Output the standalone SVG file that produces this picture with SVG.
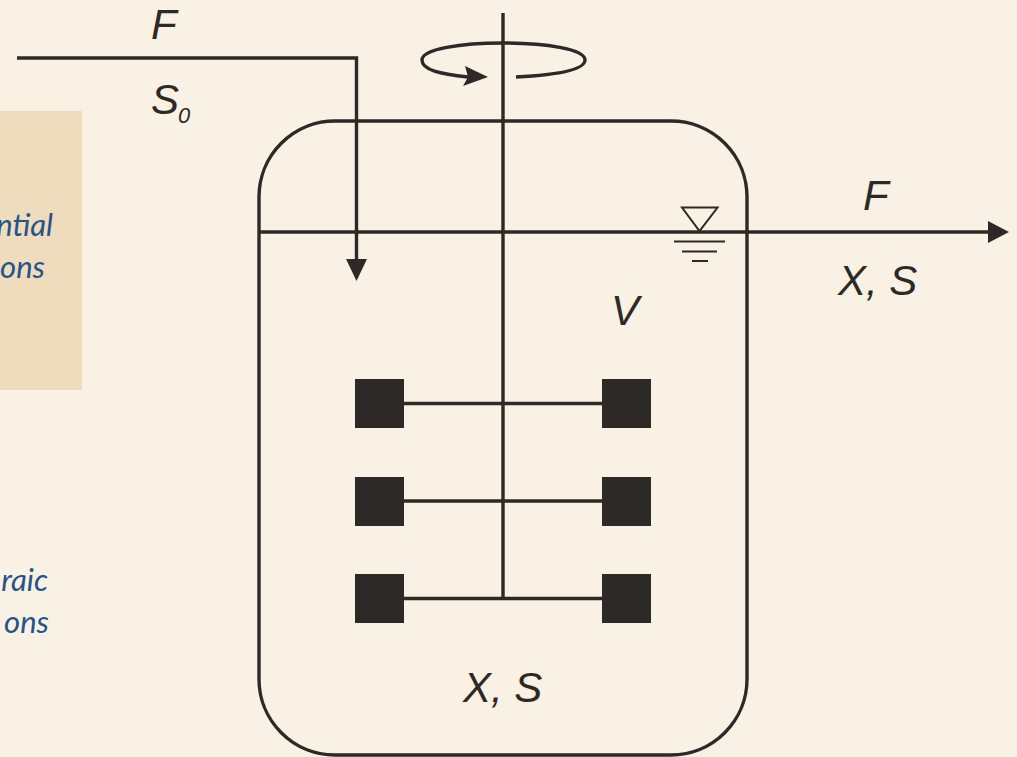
<svg xmlns="http://www.w3.org/2000/svg" width="1017" height="757" viewBox="0 0 1017 757">
<style>
.l{fill:none;stroke:#2d2926;stroke-width:3.4;stroke-linecap:butt;stroke-linejoin:miter}
.t{stroke-width:2}
.h{fill:#2d2926}
.b{fill:#2d2926}
.m{font-family:"Liberation Sans",Arial,sans-serif;font-style:italic;font-size:42px;fill:#2d2926}
.s{font-family:"Liberation Sans",Arial,sans-serif;font-style:italic;font-size:22px;fill:#2d2926}
.c{font-family:"Lato","Noto Sans",sans-serif;font-style:italic;font-size:31px;fill:#25538a;text-anchor:end}
</style>
<rect width="1017" height="757" fill="#f9f1e4"/>
<g id="panel">
<rect x="0" y="111" width="82" height="279" fill="#eedcbc"/>
<text class="c" x="53" y="236">ntial</text>
<text class="c" x="45" y="278">ons</text>
</g>
<g id="caption-lower">
<text class="c" x="48" y="591">raic</text>
<text class="c" x="49" y="633">ons</text>
</g>
<g id="tank">
<rect x="259" y="121" width="488" height="634" rx="76" ry="76" class="l"/>
</g>
<g id="connectors">
<path class="l" d="M17 58H356.500V262"/>
<path class="h" d="M346 259H367L356.500 281Z"/>
<path class="l" d="M259 232H988"/>
<path class="h" d="M988 221L1009 232L988 243Z"/>
<path class="l" d="M503 13V598"/>
<path class="l" d="M516 77C556 75 585 70 585 60C585 49 545 43 503 43C461 43 422 49 422 60C422 70 440 74 468 77"/>
<path class="h" d="M465 66L488 77L463 86L468 77Z"/>
</g>
<g id="level">
<path class="l t" d="M682 207.500H717.500L699.500 231Z"/>
<path class="l t" d="M674 241.500H725M682 251.500H717M692 261H708"/>
</g>
<g id="impeller-1">
<rect class="b" x="355" y="379" width="49" height="49"/>
<rect class="b" x="602" y="379" width="49" height="49"/>
<path class="l" d="M404 403.500H602"/>
</g>
<g id="impeller-2">
<rect class="b" x="355" y="477" width="49" height="49"/>
<rect class="b" x="602" y="477" width="49" height="49"/>
<path class="l" d="M404 501H602"/>
</g>
<g id="impeller-3">
<rect class="b" x="355" y="574" width="49" height="49"/>
<rect class="b" x="602" y="574" width="49" height="49"/>
<path class="l" d="M404 598.500H602"/>
</g>
<g id="labels">
<text class="m" x="151" y="39">F</text>
<text class="m" x="151" y="114">S</text>
<text class="s" x="178" y="123">0</text>
<text class="m" x="863" y="210">F</text>
<text class="m" x="838" y="295">X, S</text>
<text class="m" x="611" y="325">V</text>
<text class="m" x="463" y="702">X, S</text>
</g>
</svg>
